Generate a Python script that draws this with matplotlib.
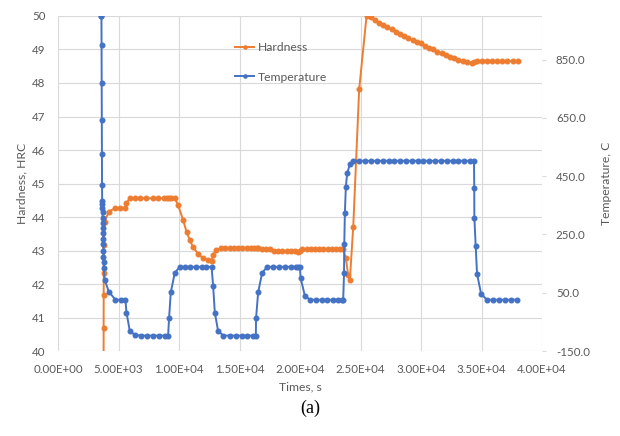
import matplotlib.pyplot as plt

# temperature history, C
time_temp = [3580, 3590, 3600, 3610, 3620, 3630, 3640, 3650, 3660, 3670, 3680,
             3690, 3700, 3710, 3720, 3730, 3740, 3750, 3760, 3770, 3780,
             3860, 4190, 4750, 5190, 5570, 5660, 5930, 6340,
             6900, 7360, 7860, 8350, 8820, 9100,
             9180, 9320, 9650, 10060,
             10470, 10890, 11380, 11860, 12270, 12690,
             12820, 12960, 13230, 13650,
             14200, 14690, 15170, 15630, 16080, 16350,
             16370, 16540, 16870, 17280,
             17780, 18280, 18750, 19220, 19660, 19850, 19990,
             20050, 20400, 20820,
             21310, 21780, 22250, 22740, 23160, 23440, 23570,
             23640, 23660, 23710, 23790, 23900, 24120,
             24390, 24880, 25360, 25860, 26330, 26820, 27320, 27790, 28250, 28750, 29230,
             29720, 30180, 30680, 31180, 31650, 32120, 32620, 33080, 33570, 34040, 34380,
             34400, 34410, 34520, 34630, 34960,
             35430, 35920, 36420, 36940, 37440, 37960]
temp = [1000, 1000, 902, 770, 644, 525, 419, 365, 353, 342, 327,
        308, 290, 273, 256, 235, 216, 192, 173, 154, 135,
        95, 54, 26, 26, 26, -18, -80, -95,
        -97, -97, -97, -97, -97, -97,
        -37, 51, 118, 139,
        139, 139, 139, 139, 139, 139,
        74, -18, -81, -97,
        -97, -97, -97, -97, -97, -97,
        -37, 51, 118, 139,
        139, 139, 139, 139, 139, 139, 139,
        101, 40, 26,
        26, 26, 26, 26, 26, 26, 26,
        118, 219, 325, 414, 460, 491,
        503, 503, 503, 503, 503, 503, 503, 503, 503, 503, 503,
        503, 503, 503, 503, 503, 503, 503, 503, 503, 503, 503,
        411, 308, 210, 116, 47,
        26, 26, 26, 26, 26, 26]

# hardness history, HRC
time_hard = [3760, 3770, 3775, 3780, 3800, 3860, 4190, 4690, 5100, 5520, 5660, 5930,
             6340, 6810, 7310, 7810, 8270, 8740, 8970, 9180, 9380, 9650,
             9920, 10340, 10620, 10890, 11160, 11580, 11990, 12400, 12690, 12820, 13040,
             13510, 13840, 14200, 14560, 14890, 15220, 15580, 15990, 16210, 16410, 16540,
             16820, 17150, 17510,
             17860, 18190, 18520, 18890, 19240, 19570, 19850, 19990,
             20180, 20540, 20900, 21230, 21560, 21920, 22280, 22610, 22940, 23300, 23570,
             23790, 23980, 24120, 24400, 24890, 25500,
             25840, 26190, 26550, 26880, 27210, 27570, 27930, 28260, 28590, 28950, 29310,
             29640, 29970, 30330, 30690, 31010, 31350, 31710, 32060, 32390, 32720, 33080,
             33450, 33780, 34190, 34380,
             34650, 35010, 35430, 35840, 36260, 36670, 37090, 37580, 38040]
hard = [25.0, 40.68, 41.67, 42.34, 43.15, 43.86, 44.16, 44.26, 44.26, 44.26, 44.41, 44.56,
        44.56, 44.56, 44.56, 44.56, 44.56, 44.56, 44.56, 44.56, 44.56, 44.56,
        44.36, 43.91, 43.56, 43.31, 43.10, 42.90, 42.77, 42.72, 42.70, 42.87, 43.01,
        43.07, 43.07, 43.07, 43.07, 43.07, 43.07, 43.07, 43.07, 43.07, 43.07, 43.07,
        43.04, 43.04, 43.04,
        42.98, 42.98, 42.98, 42.98, 42.98, 42.98, 42.97, 43.00,
        43.03, 43.03, 43.03, 43.03, 43.03, 43.03, 43.03, 43.03, 43.03, 43.03, 43.03,
        42.77, 42.27, 42.12, 43.71, 47.81, 50.0,
        49.96, 49.88, 49.80, 49.73, 49.66, 49.60, 49.53, 49.46, 49.40, 49.33, 49.28,
        49.23, 49.18, 49.11, 49.05, 49.00, 48.93, 48.89, 48.84, 48.79, 48.74, 48.69,
        48.66, 48.64, 48.61, 48.64,
        48.66, 48.66, 48.66, 48.66, 48.66, 48.66, 48.66, 48.66, 48.66]

x_ticks = [0, 5000, 10000, 15000, 20000, 25000, 30000, 35000, 40000]
x_labels = ['0.00E+00', '5.00E+03', '1.00E+04', '1.50E+04', '2.00E+04',
            '2.50E+04', '3.00E+04', '3.50E+04', '4.00E+04']
hrc_ticks = [40, 41, 42, 43, 44, 45, 46, 47, 48, 49, 50]
temp_ticks = [-150, 50, 250, 450, 650, 850]
temp_labels = ['-150.0', '50.0', '250.0', '450.0', '650.0', '850.0']

orange = '#ED7D31'
blue = '#4472C4'
grey = '#595959'
gridc = '#D9D9D9'

plt.rcParams['font.family'] = ['Lato', 'DejaVu Sans']

fig = plt.figure(figsize=(6.2, 4.36), dpi=100)
ax = fig.add_axes([58 / 620, 1 - 351 / 436, 484 / 620, 335 / 436])
ax2 = ax.twinx()

l1, = ax.plot(time_hard, hard, '-o', color=orange, lw=1.4, ms=3.3, label='Hardness')
l2, = ax2.plot(time_temp, temp, '-o', color=blue, lw=1.4, ms=3.3, label='Temperature')

ax.set_xlim(0, 40000)
ax.set_ylim(40, 50)
ax2.set_ylim(-150, 1000)

ax.set_xticks(x_ticks)
ax.set_xticklabels(x_labels)
ax.set_yticks(hrc_ticks)
ax2.set_yticks(temp_ticks)
ax2.set_yticklabels(temp_labels)

ax.grid(True, color=gridc, lw=0.8)
ax.set_axisbelow(True)
for a in (ax, ax2):
    for s in a.spines.values():
        s.set_visible(False)

ax.tick_params(axis='both', length=0, labelsize=8.3, labelcolor=grey)
ax.tick_params(axis='y', pad=9)
ax.tick_params(axis='x', pad=9)
ax2.tick_params(axis='y', length=3, color=gridc, labelsize=8.3, labelcolor=grey, pad=7)

ax.set_xlabel('Times, s', fontsize=8.7, color=grey, labelpad=5)
ax.set_ylabel('Hardness, HRC', fontsize=8.7, color=grey, labelpad=3)
ax2.set_ylabel('Temperature, C', fontsize=8.7, color=grey, labelpad=8)

ax2.legend([l1, l2], ['Hardness', 'Temperature'], loc='upper left',
           bbox_to_anchor=(235 / 620, 1 - 42 / 436), bbox_transform=fig.transFigure,
           frameon=False, fontsize=8.7, labelcolor=grey, handlelength=1.6,
           handletextpad=0.3, labelspacing=1.55, borderpad=0, borderaxespad=0,
           markerscale=0.7)

fig.text(0.5, 1 - 408 / 436, '(a)', ha='center', va='center',
         fontsize=13, family='Liberation Serif')

plt.savefig('out.png', dpi=100)
